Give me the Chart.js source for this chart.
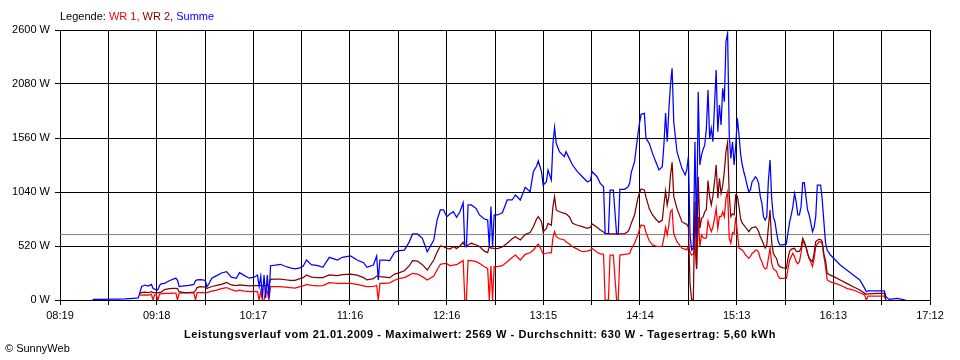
<!DOCTYPE html>
<html>
<head>
<meta charset="utf-8">
<script src="https://cdn.jsdelivr.net/npm/chart.js@4/dist/chart.umd.min.js"></script>
<style>
  html, body { margin: 0; padding: 0; background: #fff; }
  #wrap { position: relative; width: 960px; height: 360px; font-family: "Liberation Sans", Arial, sans-serif; }
  #chart { position: absolute; left: 0; top: 0; }
  .txt { position: absolute; font-size: 11px; line-height: 13px; white-space: nowrap; color: #000; }
  #legend { left: 60px; top: 10px; }
  #title { left: 0; width: 960px; text-align: center; top: 328px; font-weight: bold; letter-spacing: 0.58px; }
  #copy { left: 5px; top: 342px; }
</style>
</head>
<body>
<div id="wrap">
  <canvas id="chart" width="960" height="360"></canvas>
  <div class="txt" id="legend">Legende: <span style="color:#ff0000">WR 1,</span> <span style="color:#800000">WR 2,</span> <span style="color:#0000ff">Summe</span></div>
  <div class="txt" id="title">Leistungsverlauf vom 21.01.2009 - Maximalwert: 2569 W - Durchschnitt: 630 W - Tagesertrag: 5,60 kWh</div>
  <div class="txt" id="copy">© SunnyWeb</div>
</div>
<script>
// ---- data ----
const xStart = '08:19';
const xEnd = '17:12';
const tickLabels = ['08:19','09:18','10:17','11:16','12:16','13:15','14:14','15:13','16:13','17:12'];
const yTicks = [0, 520, 1040, 1560, 2080, 2600];
const average = 630;

const times = [
'08:39','08:45','08:50','08:55','08:59','09:04','09:07','09:08','09:09','09:11','09:13','09:15','09:16','09:17','09:18','09:19','09:20','09:21','09:23','09:26','09:29','09:30','09:31','09:32','09:35','09:38','09:41','09:42','09:43','09:45','09:48','09:49','09:50','09:52','09:55','09:58',
'10:01','10:04','10:07','10:09','10:12','10:15','10:18','10:20','10:21','10:22','10:23','10:24','10:25','10:26','10:27','10:28','10:31','10:34','10:37','10:40','10:43','10:46','10:48','10:50','10:53','10:57',
'11:00','11:04','11:09','11:12','11:17','11:21','11:25','11:27','11:31','11:33','11:34','11:35','11:38','11:41','11:44','11:47','11:50','11:53','11:55','11:58',
'12:01','12:04','12:08','12:10','12:12','12:14','12:16','12:18','12:20','12:22','12:24','12:26','12:27','12:28','12:29','12:31','12:34','12:36','12:39','12:41','12:42','12:43','12:44','12:45','12:47','12:50','12:53','12:56','12:58',
'13:01','13:04','13:07','13:09','13:11','13:12','13:14','13:15','13:17','13:18','13:20','13:21','13:22','13:23','13:25','13:28','13:29','13:31','13:33','13:36','13:39','13:42','13:44','13:45','13:48','13:50','13:52','13:53','13:55','13:56','13:58',
'14:00','14:01','14:02','14:05','14:07','14:08','14:09','14:11','14:13','14:14','14:15','14:17','14:18','14:20','14:22','14:24','14:26','14:28','14:29','14:30','14:31','14:32','14:33','14:34','14:35','14:37','14:40','14:42','14:43','14:44','14:45','14:46','14:47','14:48','14:49','14:50','14:51','14:52','14:53','14:54','14:55','14:56','14:57','14:58','14:59',
'15:00','15:01','15:02','15:03','15:04','15:05','15:06','15:07','15:08','15:09','15:10','15:11','15:12','15:13','15:14','15:15','15:16','15:17','15:18','15:19','15:20','15:21','15:22','15:23','15:24','15:25','15:26','15:27','15:28','15:29','15:30','15:31','15:32','15:33','15:34','15:35','15:36','15:37','15:38','15:39','15:40','15:42','15:44','15:45','15:46','15:47','15:48','15:49','15:50','15:51','15:52','15:53','15:54','15:55','15:56','15:57','15:58','15:59',
'16:00','16:01','16:02','16:03','16:04','16:05','16:06','16:07','16:08','16:09','16:11','16:14','16:17','16:21','16:25','16:29','16:32','16:33','16:34','16:40','16:44','16:45','16:47','16:52','16:57'
];

const wr1 = [
null,null,null,null,null,null,null,48,48,50,48,55,0,50,50,0,58,60,64,64,66,66,0,66,70,68,68,0,70,70,70,72,75,85,95,110,
120,100,85,95,85,80,82,80,0,85,0,0,85,85,0,130,130,128,125,120,115,128,135,151,140,135,
138,167,160,160,160,150,135,128,130,140,0,160,160,165,190,209,215,240,257,250,
225,193,230,289,344,350,350,330,337,340,360,380,0,0,380,378,370,353,320,305,0,330,0,321,321,330,369,410,433,
385,440,455,481,520,539,480,443,450,455,455,600,658,610,590,578,560,540,514,490,465,470,480,498,460,443,440,0,0,433,433,
0,0,433,440,445,449,490,546,626,680,722,715,650,570,530,520,514,520,600,700,626,720,850,870,640,562,498,490,481,520,460,433,440,520,300,802,514,626,600,594,600,760,706,658,700,
786,883,690,802,802,850,800,979,1040,594,546,650,640,802,650,498,490,481,460,433,420,401,420,449,460,481,481,460,400,369,320,300,305,401,498,353,300,289,273,230,209,209,209,300,385,420,449,420,369,350,369,450,578,540,514,450,401,360,
321,400,514,540,562,560,540,420,321,193,175,160,144,112,96,70,48,0,38,38,38,0,null,null,null
];

const wr2 = [
null,null,null,null,null,null,null,64,70,75,70,80,72,70,68,70,72,75,100,110,112,112,110,80,72,70,75,90,120,128,125,110,118,130,140,150,
170,145,138,145,140,135,138,138,138,138,135,135,138,138,140,199,200,200,195,190,190,205,215,241,220,215,
215,241,235,245,250,240,215,193,205,231,231,225,220,215,250,263,282,330,379,375,
340,289,385,460,520,514,498,490,514,495,520,556,520,514,530,546,530,514,470,456,514,500,500,498,495,510,546,590,610,
578,630,650,706,780,802,754,658,690,738,720,900,995,867,850,835,830,802,738,720,706,690,700,732,700,674,655,642,640,636,636,
636,636,636,640,660,690,740,819,979,1030,1069,1060,990,880,819,780,748,770,920,1050,915,1000,1200,1325,1000,880,754,735,729,700,150,0,0,950,300,1187,690,786,800,850,870,1150,995,915,1000,
1139,1300,979,1172,1027,1100,1236,1428,1518,1011,802,830,819,1011,1000,900,780,740,722,700,680,658,680,697,700,706,690,660,610,578,540,500,530,706,867,560,450,420,400,340,321,310,305,400,470,488,495,498,470,465,470,500,594,560,514,450,401,385,
369,450,562,575,584,584,560,440,380,257,240,218,193,160,128,96,64,55,60,64,64,0,null,null,null
];

const summe = [
6,6,8,8,10,16,20,74,130,144,135,150,110,105,96,100,140,155,160,185,205,209,190,130,135,140,150,185,193,195,190,128,150,210,235,260,
273,220,209,263,235,210,220,240,130,230,20,240,20,240,20,330,335,344,325,310,300,310,327,385,340,330,
315,411,385,411,424,385,359,315,337,424,193,385,385,380,460,475,480,560,636,636,
594,465,578,770,867,867,802,830,850,796,850,937,514,514,915,915,880,819,780,770,514,899,514,819,819,840,963,963,1011,
963,1085,1043,1236,1290,1339,1236,1107,1140,1252,1156,1509,1663,1509,1428,1380,1428,1364,1300,1236,1187,1139,1150,1236,1187,1123,1090,642,640,1059,1059,
636,636,1066,1066,1090,1123,1230,1332,1589,1701,1788,1798,1557,1509,1412,1332,1252,1284,1500,1800,1524,1830,2070,2231,1717,1428,1268,1204,1252,1380,626,481,498,1524,594,2006,1300,1396,1450,1493,1653,2022,1557,1653,1524,
1878,2215,1621,1878,1685,2038,1910,2487,2569,1589,1364,1524,1300,1493,1750,1589,1400,1300,1230,1172,1100,1043,1060,1139,1160,1187,1170,1123,1000,931,800,770,800,1156,1348,979,800,754,650,562,530,530,540,650,750,819,900,1027,947,819,819,899,1130,1130,995,867,819,740,
658,700,802,1107,1107,1107,963,750,550,481,433,385,337,289,241,193,112,80,89,89,89,32,6,16,0
];

// ---- helpers ----
function toMin(s) { const p = s.split(':'); return Number(p[0]) * 60 + Number(p[1]); }
const xMin = toMin(xStart), xMax = toMin(xEnd);
const gridCount = (tickLabels.length - 1) * 2;
function series(vals) { return times.map((t, i) => ({ x: toMin(t), y: vals[i] })); }

const font = { family: 'Liberation Sans', size: 11 };

new Chart(document.getElementById('chart'), {
  type: 'line',
  data: {
    datasets: [
      { label: 'Summe', data: series(summe), borderColor: '#0000ff', order: 1 },
      { label: 'WR 2', data: series(wr2), borderColor: '#800000', order: 2 },
      { label: 'WR 1', data: series(wr1), borderColor: '#ff0000', order: 3 },
      { label: 'Durchschnitt', data: [{ x: xMin, y: average }, { x: xMax, y: average }], borderColor: '#808080', borderWidth: 1, order: 10 }
    ]
  },
  options: {
    responsive: false,
    animation: false,
    spanGaps: false,
    layout: { padding: { top: 30, right: 30, left: 0, bottom: 0 } },
    elements: {
      point: { radius: 0, hoverRadius: 0 },
      line: { borderWidth: 1.25, tension: 0, fill: false }
    },
    plugins: { legend: { display: false }, tooltip: { enabled: false }, title: { display: false } },
    events: [],
    scales: {
      x: {
        type: 'linear',
        min: xMin,
        max: xMax,
        afterBuildTicks: (s) => {
          s.ticks = Array.from({ length: gridCount + 1 }, (_, i) => ({ value: xMin + i * (xMax - xMin) / gridCount }));
        },
        afterFit: (s) => { s.height = 60; },
        ticks: {
          autoSkip: false, maxRotation: 0, minRotation: 0, color: '#000', font: font, padding: 4,
          callback: (v, i) => (i % 2 === 0 ? tickLabels[i / 2] : '')
        },
        grid: { color: '#000', lineWidth: 1, tickLength: 5, drawTicks: true },
        border: { color: '#000', width: 1 }
      },
      y: {
        min: yTicks[0],
        max: yTicks[yTicks.length - 1],
        afterBuildTicks: (s) => { s.ticks = yTicks.map(v => ({ value: v })); },
        afterFit: (s) => { s.width = 60; },
        ticks: { color: '#000', font: font, padding: 5, callback: (v) => v + ' W' },
        grid: { color: '#000', lineWidth: 1, tickLength: 5, drawTicks: true },
        border: { color: '#000', width: 1 }
      }
    }
  }
});
</script>
</body>
</html>
